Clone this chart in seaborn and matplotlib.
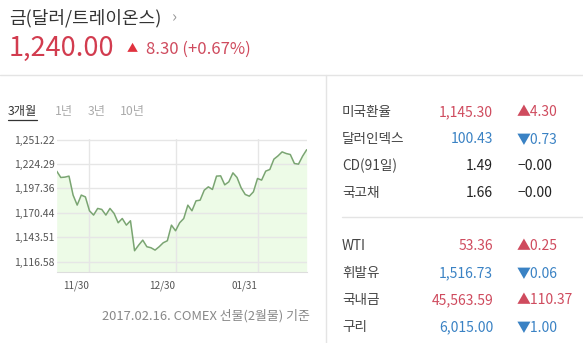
import matplotlib
matplotlib.use("Agg")
import matplotlib.pyplot as plt
import seaborn as sns
import pandas as pd
from matplotlib.lines import Line2D

# ---------------- data ----------------
prices = [1216.4, 1209.4, 1209.8, 1210.9, 1190.0, 1179.0, 1190.0, 1188.0, 1172.7, 1168.0,
          1175.3, 1174.2, 1168.0, 1175.3, 1169.8, 1159.5, 1164.2, 1156.9, 1161.7, 1128.7,
          1134.9, 1140.4, 1133.1, 1132.0, 1129.4, 1133.1, 1137.5, 1139.7, 1156.9, 1150.7,
          1159.5, 1164.2, 1178.9, 1172.7, 1183.7, 1184.4, 1195.4, 1199.1, 1196.2, 1210.9,
          1211.2, 1201.3, 1204.6, 1214.5, 1209.4, 1198.0, 1190.7, 1188.8, 1193.6, 1208.3,
          1206.5, 1216.4, 1218.2, 1229.6, 1233.2, 1237.6, 1235.8, 1234.7, 1224.8, 1224.1,
          1232.9, 1240.0]
y_ticks = [1116.58, 1143.51, 1170.44, 1197.36, 1224.29, 1251.22]
x_tick_index = [8, 29, 49]
x_tick_labels = ["11/30", "12/30", "01/31"]

title = "금(달러/트레이온스)"
price_now = "1,240.00"
price_change = "8.30 (+0.67%)"
tabs = ["3개월", "1년", "3년", "10년"]
footnote = "2017.02.16. COMEX 선물(2월물) 기준"

names1 = ["미국환율", "달러인덱스", "CD(91일)", "국고채"]
values1 = ["1,145.30", "100.43", "1.49", "1.66"]
changes1 = ["4.30", "0.73", "0.00", "0.00"]
dirs1 = ["up", "down", "flat", "flat"]

names2 = ["WTI", "휘발유", "국내금", "구리"]
values2 = ["53.36", "1,516.73", "45,563.59", "6,015.00"]
changes2 = ["0.25", "0.06", "110.37", "1.00"]
dirs2 = ["up", "down", "up", "down"]

# ---------------- style ----------------
sns.set_style("white")
FAM = ["Noto Sans CJK KR", "DejaVu Sans"]
plt.rcParams["font.family"] = FAM

W, H = 583, 343
fig = plt.figure(figsize=(W / 100, H / 100), dpi=100)
fig.patch.set_facecolor("white")

RED = "#d23c4f"
RED_T = "#cf4b5e"
BLUE_T = "#3a82c4"
GREY_LINE = "#e4e4e4"


def T(x, y, s, **kw):
    kw.setdefault("va", "center")
    fig.text(x / W, 1 - y / H, s, **kw)


def L(x0, y0, x1, y1, **kw):
    fig.add_artist(Line2D([x0 / W, x1 / W], [1 - y0 / H, 1 - y1 / H],
                          transform=fig.transFigure, **kw))


# header
T(9, 18, title, fontsize=13, color="#333333")
T(172, 18, "›", fontsize=12, color="#999999")
T(9, 48, price_now, fontsize=19.5, color=RED)
T(127, 49, "▲", fontsize=8, color="#e0323e")
T(146, 49, price_change, fontsize=12, color=RED_T)

# frame lines
L(0, 74.5, W, 74.5, color=GREY_LINE, lw=1)
L(325.5, 74.5, 325.5, H, color=GREY_LINE, lw=1)
L(342, 216.5, W, 216.5, color=GREY_LINE, lw=1)

# tabs
tab_x = [8, 55, 88, 120]
for i, (tx, tb) in enumerate(zip(tab_x, tabs)):
    T(tx, 112, tb, fontsize=8.8, color="#333333" if i == 0 else "#aaaaaa")
L(8, 119.5, 37, 119.5, color="#333333", lw=0.9)

# ---------------- chart ----------------
df = pd.DataFrame({"idx": range(len(prices)), "price": prices})
ymin = 1105.6
ax = fig.add_axes([56.7 / W, 1 - 271.7 / H, 250 / W, 132.7 / H])
ax.fill_between(df["idx"], df["price"], ymin, color="#edfbe7", lw=0)
sns.lineplot(data=df, x="idx", y="price", ax=ax, color="#7aa572", lw=1.1)
ax.set_xlim(0, len(prices) - 1)
ax.set_ylim(ymin, 1251.8)
ax.set_yticks(y_ticks)
ax.set_yticklabels([f"{v:,.2f}" for v in y_ticks])
ax.set_xticks(x_tick_index)
ax.set_xticklabels(x_tick_labels, ha="right")
ax.set_xlabel("")
ax.set_ylabel("")
ax.set_axisbelow("line")
ax.grid(True, color="#e6e6e6", lw=1)
for s in ["left", "top", "right"]:
    ax.spines[s].set_visible(False)
ax.spines["bottom"].set_color("#dddddd")
ax.tick_params(axis="x", length=3, color="#dddddd", labelsize=7.2, labelcolor="#555555", pad=3)
ax.tick_params(axis="y", length=0, labelsize=7.5, labelcolor="#555555", pad=1.5)
ax.set_facecolor("none")

T(310, 316, footnote, fontsize=9.3, color="#888888", ha="right")

# ---------------- right panel ----------------
def row(y, name, val, chg, d):
    if d == "up":
        vc, mark, mc = RED_T, "▲", RED_T
    elif d == "down":
        vc, mark, mc = BLUE_T, "▼", BLUE_T
    else:
        vc, mark, mc = "#222222", "−", "#222222"
    T(342, y, name, fontsize=9.8, color="#444444")
    T(493, y, val, fontsize=10, color=vc, ha="right")
    T(517, y, mark + chg, fontsize=10, color=mc)


for y, n, v, c, d in zip([112, 139, 166, 193], names1, values1, changes1, dirs1):
    row(y, n, v, c, d)
for y, n, v, c, d in zip([246, 273, 300, 327], names2, values2, changes2, dirs2):
    row(y, n, v, c, d)

fig.savefig("out.png", dpi=100)
